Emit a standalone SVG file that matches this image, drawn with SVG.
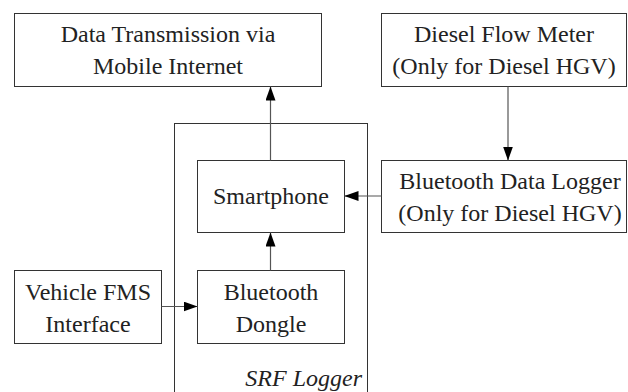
<svg xmlns="http://www.w3.org/2000/svg" width="628" height="392" viewBox="0 0 628 392" font-family="'Liberation Serif', 'Times New Roman', serif">
<defs>
<style>
.box{fill:#fff;stroke:#333;stroke-width:1}
.t{font-size:24px;fill:#222;text-anchor:middle}
.c{stroke:#555;stroke-width:1.2;fill:none}
</style>
<marker id="ah" viewBox="0 0 14 10" refX="14" refY="5" markerWidth="14" markerHeight="10" markerUnits="userSpaceOnUse" orient="auto">
<path d="M0,0 L14,5 L0,10 Z" fill="#000"/>
</marker>
</defs>
<rect width="628" height="392" fill="#fff"/>
<g id="srf-logger">
<rect class="box" x="174.5" y="123.5" width="193" height="280"/>
<text class="t" x="362" y="386" font-family="'Liberation Serif', serif" style="font-style:italic;text-anchor:end">SRF Logger</text>
</g>
<g id="data-transmission" font-family="'Liberation Serif', serif">
<rect class="box" x="14.5" y="13.5" width="307" height="73"/>
<text class="t" x="168" y="42">Data Transmission via</text>
<text class="t" x="168" y="74">Mobile Internet</text>
</g>
<g id="diesel-flow-meter" font-family="'Liberation Serif', serif">
<rect class="box" x="381.5" y="13.5" width="245" height="73"/>
<text class="t" x="504" y="42">Diesel Flow Meter</text>
<text class="t" x="504" y="74">(Only for Diesel HGV)</text>
</g>
<g id="bluetooth-data-logger" font-family="'Liberation Serif', serif">
<rect class="box" x="381.5" y="160.5" width="245" height="72"/>
<text class="t" x="510" y="189">Bluetooth Data Logger</text>
<text class="t" x="510" y="221">(Only for Diesel HGV)</text>
</g>
<g id="smartphone" font-family="'Liberation Serif', serif">
<rect class="box" x="197.5" y="160.5" width="147" height="72"/>
<text class="t" x="271" y="204">Smartphone</text>
</g>
<g id="bluetooth-dongle" font-family="'Liberation Serif', serif">
<rect class="box" x="197.5" y="270.5" width="147" height="73"/>
<text class="t" x="271" y="300">Bluetooth</text>
<text class="t" x="271" y="332">Dongle</text>
</g>
<g id="vehicle-fms" font-family="'Liberation Serif', serif">
<rect class="box" x="14.5" y="270.5" width="147" height="73"/>
<text class="t" x="88" y="300">Vehicle FMS</text>
<text class="t" x="88" y="332">Interface</text>
</g>
<g id="connectors">
<line class="c" x1="270.5" y1="160.5" x2="270.5" y2="86.5" marker-end="url(#ah)"/>
<line class="c" x1="508" y1="86.5" x2="508" y2="160.5" marker-end="url(#ah)"/>
<line class="c" x1="381.5" y1="196" x2="344.5" y2="196" marker-end="url(#ah)"/>
<line class="c" x1="270.5" y1="270.5" x2="270.5" y2="232.5" marker-end="url(#ah)"/>
<line class="c" x1="161.5" y1="306.5" x2="197.5" y2="306.5" marker-end="url(#ah)"/>
</g>
</svg>
